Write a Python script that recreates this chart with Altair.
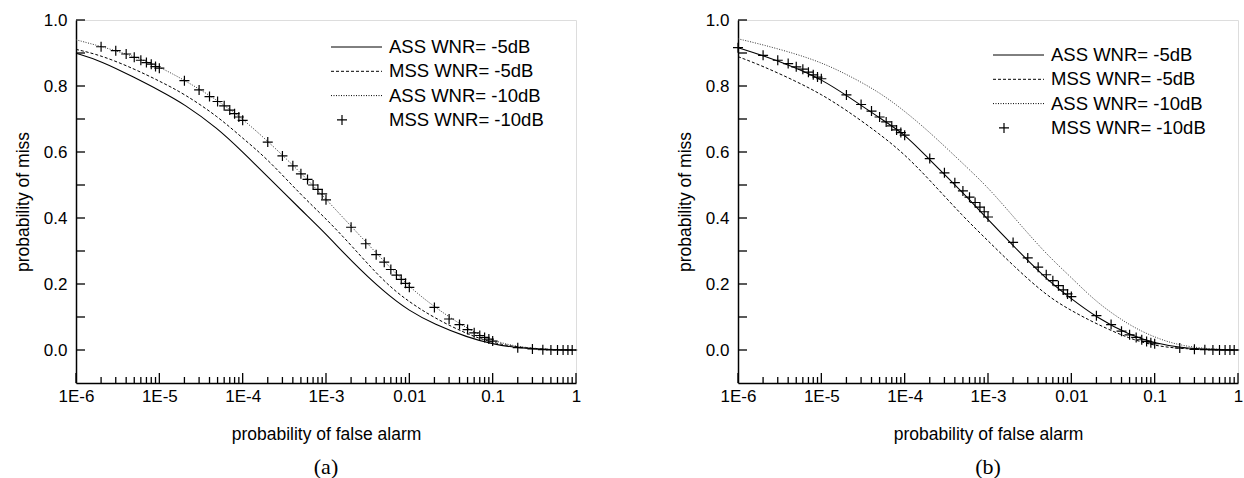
import altair as alt
import pandas as pd

# ---------------- data ----------------
x_line = [1e-6, 2e-6, 5e-6, 1e-5, 2e-5, 5e-5, 1e-4, 2e-4, 5e-4, 1e-3,
          2e-3, 5e-3, 1e-2, 2e-2, 5e-2, 0.1, 0.2, 0.5, 1.0]

# panel (a)
a_ass5 = [0.899, 0.876, 0.826, 0.787, 0.745, 0.672, 0.600, 0.525, 0.425, 0.352,
          0.270, 0.175, 0.118, 0.078, 0.038, 0.018, 0.006, 0.001, 0.0]
a_mss5 = [0.911, 0.893, 0.852, 0.815, 0.776, 0.708, 0.642, 0.578, 0.470, 0.398,
          0.318, 0.205, 0.145, 0.097, 0.047, 0.022, 0.008, 0.001, 0.0]
a_ass10 = [0.940, 0.920, 0.890, 0.858, 0.818, 0.757, 0.700, 0.633, 0.537, 0.457,
           0.375, 0.268, 0.191, 0.130, 0.063, 0.028, 0.009, 0.001, 0.0]

a_marker_x = [2e-6, 3e-6, 4e-6, 5e-6, 6e-6, 7e-6, 8e-6, 9e-6, 1e-5,
              2e-5, 3e-5, 4e-5, 5e-5, 6e-5, 7e-5, 8e-5, 9e-5, 1e-4,
              2e-4, 3e-4, 4e-4, 5e-4, 6e-4, 7e-4, 8e-4, 9e-4, 1e-3,
              2e-3, 3e-3, 4e-3, 5e-3, 6e-3, 7e-3, 8e-3, 9e-3, 1e-2,
              0.02, 0.03, 0.04, 0.05, 0.06, 0.07, 0.08, 0.09, 0.1,
              0.2, 0.3, 0.4, 0.5, 0.6, 0.7, 0.8, 0.9]
a_mss10 = [0.919, 0.907, 0.897, 0.887, 0.878, 0.871, 0.866, 0.859, 0.854,
           0.816, 0.788, 0.768, 0.753, 0.740, 0.727, 0.716, 0.706, 0.696,
           0.630, 0.588, 0.558, 0.534, 0.517, 0.500, 0.487, 0.473, 0.455,
           0.372, 0.322, 0.289, 0.266, 0.244, 0.227, 0.214, 0.202, 0.190,
           0.129, 0.094, 0.077, 0.062, 0.052, 0.044, 0.038, 0.033, 0.027,
           0.007, 0.003, 0.001, 0.0, 0.0, 0.0, 0.0, 0.0]

# panel (b)
b_ass5 = [0.916, 0.892, 0.855, 0.820, 0.772, 0.703, 0.655, 0.576, 0.477, 0.395,
          0.316, 0.215, 0.155, 0.099, 0.045, 0.021, 0.007, 0.001, 0.0]
b_mss5 = [0.889, 0.860, 0.814, 0.775, 0.727, 0.655, 0.593, 0.515, 0.405, 0.331,
          0.256, 0.165, 0.119, 0.079, 0.034, 0.013, 0.004, 0.001, 0.0]
b_ass10 = [0.943, 0.925, 0.897, 0.871, 0.836, 0.781, 0.724, 0.660, 0.565, 0.493,
           0.405, 0.290, 0.220, 0.144, 0.074, 0.038, 0.013, 0.002, 0.0]

b_marker_x = [1e-6, 2e-6, 3e-6, 4e-6, 5e-6, 6e-6, 7e-6, 8e-6, 9e-6, 1e-5,
              2e-5, 3e-5, 4e-5, 5e-5, 6e-5, 7e-5, 8e-5, 9e-5, 1e-4,
              2e-4, 3e-4, 4e-4, 5e-4, 6e-4, 7e-4, 8e-4, 9e-4, 1e-3,
              2e-3, 3e-3, 4e-3, 5e-3, 6e-3, 7e-3, 8e-3, 9e-3, 1e-2,
              0.02, 0.03, 0.04, 0.05, 0.06, 0.07, 0.08, 0.09, 0.1,
              0.2, 0.3, 0.4, 0.5, 0.6, 0.7, 0.8, 0.9]
b_mss10 = [0.916, 0.893, 0.878, 0.868, 0.858, 0.851, 0.842, 0.834, 0.827, 0.822,
           0.773, 0.744, 0.724, 0.706, 0.691, 0.679, 0.667, 0.659, 0.651,
           0.580, 0.537, 0.507, 0.482, 0.463, 0.447, 0.433, 0.419, 0.403,
           0.326, 0.279, 0.251, 0.228, 0.210, 0.195, 0.182, 0.170, 0.162,
           0.104, 0.077, 0.057, 0.046, 0.038, 0.031, 0.026, 0.022, 0.019,
           0.006, 0.002, 0.001, 0.0, 0.0, 0.0, 0.0, 0.0]

# axes
x_major = [1e-6, 1e-5, 1e-4, 1e-3, 1e-2, 0.1, 1.0]
x_minor = [2e-6, 3e-6, 4e-6, 5e-6, 6e-6, 7e-6, 8e-6, 9e-6,
           2e-5, 3e-5, 4e-5, 5e-5, 6e-5, 7e-5, 8e-5, 9e-5,
           2e-4, 3e-4, 4e-4, 5e-4, 6e-4, 7e-4, 8e-4, 9e-4,
           2e-3, 3e-3, 4e-3, 5e-3, 6e-3, 7e-3, 8e-3, 9e-3,
           0.02, 0.03, 0.04, 0.05, 0.06, 0.07, 0.08, 0.09,
           0.2, 0.3, 0.4, 0.5, 0.6, 0.7, 0.8, 0.9]
y_major = [0.0, 0.2, 0.4, 0.6, 0.8, 1.0]
y_minor = [0.1, 0.3, 0.5, 0.7, 0.9]

legend_labels = ["ASS WNR= -5dB", "MSS WNR= -5dB", "ASS WNR= -10dB", "MSS WNR= -10dB"]

# ---------------- layout / style ----------------
W, H = 500, 363
FONT = "Liberation Sans"
PLUS = "M-1,0L1,0M0,-1L0,1"
INTERP = "basis"

x_label_expr = ("datum.value < 0.000002 ? '1E-6' : datum.value < 0.00002 ? '1E-5' : "
                "datum.value < 0.0002 ? '1E-4' : datum.value < 0.002 ? '1E-3' : "
                "datum.value < 0.02 ? '0.01' : datum.value < 0.2 ? '0.1' : '1'")

xscale = alt.Scale(type="log", domain=[1e-6, 1.0], nice=False)
yscale = alt.Scale(domain=[-0.1, 1.0], nice=False, zero=False)

x_axis = alt.Axis(values=x_major, labelExpr=x_label_expr, ticks=False, tickSize=0, grid=False,
                  domainColor="black", domainWidth=1.5, labelFont=FONT, labelFontSize=17,
                  labelColor="black", labelPadding=5, labelFlush=False, labelOverlap=False,
                  title="probability of false alarm", titleFont=FONT, titleFontSize=17.5,
                  titleFontWeight="normal", titleColor="black", titleY=51,
                  titleBaseline="middle")
y_axis = alt.Axis(values=y_major, format=".1f", ticks=False, tickSize=0, grid=False,
                  domainColor="black", domainWidth=1.5, labelFont=FONT, labelFontSize=17,
                  labelColor="black", labelPadding=9, labelFlush=False, labelOverlap=False,
                  title="probability of miss", titleFont=FONT, titleFontSize=17.5,
                  titleFontWeight="normal", titleColor="black", titleX=-53, titleY=H / 2,
                  titleBaseline="middle", titleAlign="center")

one_row = pd.DataFrame({"k": [0]})


def panel(ass5, mss5, ass10, mx, my, leg_top, tag):
    lines = pd.DataFrame({
        "x": x_line * 3,
        "y": ass5 + mss5 + ass10,
        "s": ["ass5"] * len(x_line) + ["mss5"] * len(x_line) + ["ass10"] * len(x_line),
    })
    marks = pd.DataFrame({"x": mx, "y": my})
    xmaj = pd.DataFrame({"x": x_major})
    xmin = pd.DataFrame({"x": x_minor})
    ymaj = pd.DataFrame({"y": y_major})
    ymin = pd.DataFrame({"y": y_minor})

    base_line = alt.Chart(lines)
    enc = dict(x=alt.X("x:Q", scale=xscale, axis=x_axis),
               y=alt.Y("y:Q", scale=yscale, axis=y_axis))

    solid = base_line.transform_filter("datum.s == 'ass5'").mark_line(
        color="black", strokeWidth=1.1, interpolate=INTERP).encode(**enc)
    dashed = base_line.transform_filter("datum.s == 'mss5'").mark_line(
        color="black", strokeWidth=1, strokeDash=[3, 2], interpolate=INTERP).encode(
        x="x:Q", y="y:Q")
    dotted = base_line.transform_filter("datum.s == 'ass10'").mark_line(
        color="#333333", strokeWidth=1, strokeDash=[1, 1.5], interpolate=INTERP).encode(
        x="x:Q", y="y:Q")
    pts = alt.Chart(marks).mark_point(shape=PLUS, size=100, filled=False, stroke="black",
                                      strokeWidth=1.2, opacity=1).encode(x="x:Q", y="y:Q")

    # inward ticks
    t_xmaj = alt.Chart(xmaj).mark_rule(color="black", strokeWidth=1.3).encode(
        x="x:Q", y=alt.value(H), y2=alt.value(H - 10))
    t_xmin = alt.Chart(xmin).mark_rule(color="black", strokeWidth=1.3).encode(
        x="x:Q", y=alt.value(H), y2=alt.value(H - 6))
    t_ymaj = alt.Chart(ymaj).mark_rule(color="black", strokeWidth=1.3).encode(
        y="y:Q", x=alt.value(0), x2=alt.value(9))
    t_ymin = alt.Chart(ymin).mark_rule(color="black", strokeWidth=1.3).encode(
        y="y:Q", x=alt.value(0), x2=alt.value(9))

    # legend (single-row data so each item is drawn once)
    rows = [leg_top + 24.3 * i for i in range(4)]
    leg = []
    dashes = [None, [3, 2], [1, 1.5]]
    for i in range(3):
        kw = dict(color="black", strokeWidth=1)
        if dashes[i]:
            kw["strokeDash"] = dashes[i]
        leg.append(alt.Chart(one_row).mark_rule(**kw).encode(
            x=alt.value(255), x2=alt.value(306), y=alt.value(rows[i])))
    leg.append(alt.Chart(one_row).mark_point(shape=PLUS, size=100, filled=False,
                                             stroke="black", strokeWidth=1.2,
                                             opacity=1).encode(
        x=alt.value(266), y=alt.value(rows[3])))
    for i, lab in enumerate(legend_labels):
        leg.append(alt.Chart(one_row).mark_text(text=lab, font=FONT, fontSize=18.5,
                                                fontWeight="normal", align="left",
                                                baseline="middle", color="black").encode(
            x=alt.value(313), y=alt.value(rows[i])))

    tag_txt = alt.Chart(one_row).mark_text(text=tag, font="Liberation Serif", fontSize=22,
                                           fontWeight="normal", align="center",
                                           baseline="middle", color="black").encode(
        x=alt.value(W / 2), y=alt.value(H + 84))

    return alt.layer(solid, dashed, dotted, pts, t_xmaj, t_xmin, t_ymaj, t_ymin,
                     *leg, tag_txt).properties(width=W, height=H)


pa = panel(a_ass5, a_mss5, a_ass10, a_marker_x, a_mss10, 27, "(a)")
pb = panel(b_ass5, b_mss5, b_ass10, b_marker_x, b_mss10, 35, "(b)")

chart = alt.hconcat(pa, pb, spacing=93).properties(
    padding={"left": 13, "top": 10, "right": 0, "bottom": 0}
).configure_view(stroke=None).configure(background="white")

chart.save("out.html", embed_options={"renderer": "svg", "actions": False})
